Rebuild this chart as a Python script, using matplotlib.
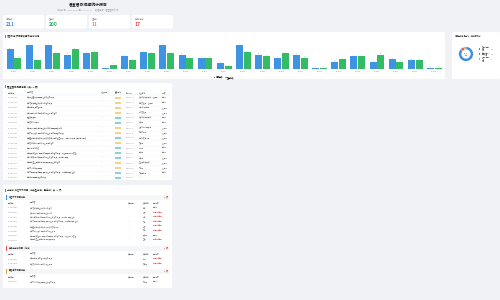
import matplotlib
matplotlib.use('Agg')
import matplotlib.pyplot as plt
from matplotlib.patches import FancyBboxPatch, Rectangle

plt.rcParams['font.family'] = ['Noto Sans CJK SC', 'DejaVu Sans']

W, H = 500, 300

# data
kpi_labels = ['问题总数', '已完成', '进行中', '逾期未完成']
kpi_values = [211, 200, 11, 17]
kpi_colors = ['#3a8ee6', '#2fb35d', '#f0a020', '#e8534a']

categories = ['DB-%03d' % i for i in range(1, 24)]
total_counts = [14, 17, 17, 10, 11, 1, 9, 12, 17, 10, 8, 4, 17, 10, 8, 10, 1, 5, 9, 5, 7, 6, 1]
done_counts = [8, 6, 11, 14, 12, 3, 6, 11, 11, 8, 8, 2, 12, 9, 11, 8, 1, 7, 9, 10, 5, 6, 1]

pie_labels = ['已完成问题\n数量', '逾期未完成\n问题数量', '进行中问题\n数量']
pie_values = [183, 17, 11]
pie_colors = ['#3a8ee6', '#e8534a', '#f0a020']

issue_ids = ['DC-2024-%03d' % i for i in [101, 102, 103, 104, 105, 106, 107, 108, 109,
                                           110, 111, 112, 113, 114, 115, 116, 117]]
issue_texts = ['关于推进重点项目建设进度的督办事项',
               '关于落实安全生产责任制的督办事项',
               '政务服务事项办理情况',
               '关于城区环境综合整治工作推进情况的督办',
               '民生实事项目',
               '关于营商环境优化',
               '关于老旧小区改造工程进度滞后的问题及整改措施',
               '关于农村人居环境整治工作推进缓慢的问题督办事项',
               '关于重点企业复工复产帮扶政策落实情况的督查反馈，相关部门协调，尽快完成整改',
               '关于信访积案化解工作推进情况的督办',
               '关于防汛工作准备',
               '关于基层治理体系建设工作开展情况的督办事项，推进基层网格化管理',
               '关于教育资源均衡配置工作推进的督办事项，加快学校建设',
               '关于医疗卫生服务能力提升项目建设进度的督办',
               '关于文化旅游项目建设',
               '关于交通基础设施建设项目推进情况的督办事项，加快道路建设进度',
               '关于产业园区建设督办事项']
issue_tags = ['重要', '重要', '重要', '重要', '一般', '一般', '重要', '重要', '一般',
              '重要', '一般', '一般', '一般', '重要', '重要', '一般', '一般']
issue_depts = ['发展和改革委员会、住建局', '应急管理局、住建局', '行政审批服务局',
               '城市管理局', '发展和改革委员会', '财政局', '住房和城乡建设局',
               '农业农村局', '工业和信息化局', '信访局', '水利局', '民政局',
               '教育局', '卫生健康委员会', '文旅局', '交通运输局', '—']
issue_status = ['已完成', '已完成', '进行中', '进行中', '已完成', '已完成', '进行中',
                '进行中', '进行中', '进行中', '已完成', '已完成', '进行中', '进行中',
                '进行中', '已完成', '—']

sec_titles = ['推进不力问题清单', '逾期未完成问题（红牌）', '预警提示问题清单']
sec_colors = ['#3a8ee6', '#e8534a', '#f0a020']
sec_counts = ['8 项', '2 项', '1 项']
sec_rows = [
    [('DC-2024-002', '关于落实安全生产责任制的督办', '—', '应急', '已完成'),
     ('DC-2024-007', '关于老旧小区改造工程进度滞后', '—', '住建', '未完成 逾期'),
     ('DC-2024-013', '关于教育资源均衡配置工作推进的督办事项，加快学校建设进度', '—', '教育', '未完成 逾期'),
     ('DC-2024-016', '关于交通基础设施建设项目推进情况的督办事项，加快道路建设进度', '—', '交通', '未完成 逾期'),
     ('DC-2024-009', '关于重点企业复工复产帮扶政策落实情况', '—', '工信', '未完成 逾期'),
     ('DC-2024-008', '关于农村人居环境整治工作推进缓慢', '—', '农业', '未完成 逾期'),
     ('DC-2024-012', '关于基层治理体系建设工作开展情况的督办事项，推进网格化管理', '—', '民政局', '已完成'),
     ('DC-2024-014', '关于医疗卫生服务能力提升项目建设', '—', '卫健', '未完成 逾期')],
    [('DC-2024-003', '政务服务事项办理情况督办事项', '—', '审批', '未完成 逾期'),
     ('DC-2024-010', '关于信访积案化解工作推进情况', '—', '信访局', '未完成 逾期')],
    [('DC-2024-015', '关于文化旅游项目建设进度督办事项', '—', '文旅局', '已完成')],
]

BG = '#f0f2f6'
fig = plt.figure(figsize=(5, 3), dpi=100)
fig.patch.set_facecolor(BG)


def rect(x, y, w, h):
    return [x / W, 1 - (y + h) / H, w / W, h / H]


def text(x, y, s, size=1.6, color='#444444', **kw):
    fig.text(x / W, 1 - y / H, s, fontsize=size, color=color, va='center', **kw)


def panel(x, y, w, h, color='white'):
    fig.patches.append(FancyBboxPatch((x / W, 1 - (y + h) / H), w / W, h / H,
                                      boxstyle='round,pad=0,rounding_size=0.004',
                                      transform=fig.transFigure, facecolor=color,
                                      edgecolor='none', zorder=-2))


def box(x, y, w, h, color):
    fig.patches.append(Rectangle((x / W, 1 - (y + h) / H), w / W, h / H,
                                 transform=fig.transFigure, facecolor=color,
                                 edgecolor='none', zorder=-1))


def hline(x0, x1, y, color='#eef0f3', lw=0.2):
    fig.lines.append(plt.Line2D([x0 / W, x1 / W], [1 - y / H] * 2,
                                transform=fig.transFigure, color=color, lw=lw, zorder=-1))


# title
text(88, 5.5, '督查督办问题统计报告', size=2.8, color='#222222', ha='center', weight='bold')
text(88, 10, '统计时间：2024-01-01 至 2024-12-31 · 数据来源：督查督办系统', size=1.5,
     color='#aaaaaa', ha='center')

# kpi cards
for i, (lab, val, col) in enumerate(zip(kpi_labels, kpi_values, kpi_colors)):
    x0 = 3 + i * 43
    panel(x0, 15, 41, 13.5)
    text(x0 + 3, 19, lab, size=1.4, color='#999999')
    text(x0 + 3, 24, str(val), size=3.6, color=col, weight='bold')

# bar chart panel
panel(3, 32, 442, 47)
box(5, 34.5, 0.6, 3, '#3a8ee6')
text(7, 36, '各督办事项问题数量及完成情况', size=1.7, color='#333333')
ax = fig.add_axes(rect(4.5, 44, 439.3, 25))
ax.patch.set_alpha(0)
xs = list(range(len(categories)))
bw = 0.37
b1 = ax.bar([x - bw / 2 - 0.02 for x in xs], total_counts, bw, color='#3f93e3', label='问题总数')
b2 = ax.bar([x + bw / 2 + 0.02 for x in xs], done_counts, bw, color='#33bb66', label='已完成数')
for bars, vals, c in [(b1, total_counts, '#3f93e3'), (b2, done_counts, '#33bb66')]:
    for b, v in zip(bars, vals):
        ax.text(b.get_x() + b.get_width() / 2, v + 0.3, str(v), ha='center', va='bottom',
                fontsize=1.3, color=c)
ax.set_xlim(-0.5, len(categories) - 0.5)
ax.set_ylim(0, 17.6)
ax.set_xticks(xs)
ax.set_xticklabels(categories, fontsize=1.3, color='#888888')
ax.tick_params(length=0, pad=1.2)
ax.set_yticks([])
for s in ax.spines.values():
    s.set_visible(False)
ax.legend(loc='upper center', bbox_to_anchor=(0.5, -0.2), ncol=2, fontsize=1.4,
          frameon=False, handlelength=0.8, handleheight=0.6, columnspacing=1.0,
          handletextpad=0.3)

# donut panel
panel(452, 32, 48, 47)
text(455, 36, '问题完成情况分布（按状态统计）', size=1.4, color='#333333')
axp = fig.add_axes(rect(456, 45, 20, 18))
axp.pie(pie_values, colors=pie_colors, startangle=90, counterclock=False,
        wedgeprops=dict(width=0.38, edgecolor='white', linewidth=0.2))
axp.set_aspect('equal')
axp.text(0, 0.1, str(sum(pie_values)), ha='center', va='center', fontsize=1.6, color='#333333')
axp.text(0, -0.25, '总数', ha='center', va='center', fontsize=1.1, color='#999999')
for i, (lab, val, col) in enumerate(zip(pie_labels, pie_values, pie_colors)):
    yy = 49 + i * 5.2
    box(478.5, yy - 0.9, 1.8, 1.8, col)
    text(481.5, yy, lab, size=1.1, color='#666666', linespacing=0.9)
    text(491, yy, str(val), size=1.2, color='#444444')

# issue table panel
panel(3, 83, 169, 97)
box(5, 85.5, 0.6, 3, '#3a8ee6')
text(7, 87, '督查督办问题清单（共 17 项）', size=1.7, color='#333333', weight='bold')
heads = ['问题编号', '问题内容', '责任领导', '重要程度', '办结时限', '责任单位', '状态']
hx = [8, 27, 101, 115, 126, 139, 162]
for x, h in zip(hx, heads):
    text(x, 93, h, size=1.25, color='#777777')
hline(6, 170, 95, '#e6e8ec', 0.3)
for r in range(len(issue_ids)):
    yy = 98 + r * 5
    text(8, yy, issue_ids[r], size=1.2, color='#888888')
    text(27, yy, issue_texts[r], size=1.2, color='#777777')
    text(101, yy, '—', size=1.2, color='#aaaaaa')
    tc = '#f3d58a' if issue_tags[r] == '重要' else '#8ccfd6'
    box(115, yy - 1, 5.5, 2, tc)
    text(126, yy, '2024-12-%02d' % (r + 10), size=1.2, color='#888888')
    text(139, yy, issue_depts[r], size=1.2, color='#888888')
    text(162, yy, issue_status[r], size=1.2, color='#888888')
    hline(6, 170, yy + 2.5)

# unfinished panel
panel(3, 185, 169, 103)
box(5, 188.5, 0.6, 3, '#3a8ee6')
text(7, 190, '未完成/推进不力问题（按类型分组，已逾期，共 11 项）', size=1.6, color='#333333')
sec_y = [197, 248, 271]
sub_heads = ['问题编号', '问题内容', '责任领导', '责任单位', '完成状态']
sx = [8, 30, 128, 143, 153]
for si in range(3):
    y0 = sec_y[si]
    box(6, y0 - 2.5, 164, 5, '#f5f6f8')
    box(6, y0 - 2.5, 0.7, 5, sec_colors[si])
    text(9, y0, sec_titles[si], size=1.5, color='#333333')
    text(168, y0, sec_counts[si], size=1.6, color='#e8534a', ha='right', weight='bold')
    for x, h in zip(sx, sub_heads):
        text(x, y0 + 6, h, size=1.2, color='#777777')
    for r, row in enumerate(sec_rows[si]):
        yy = y0 + 11 + r * 4.6
        for x, v in zip(sx, row):
            if v == '已完成':
                text(x, yy, v, size=1.2, color='#2fb35d')
            elif v.startswith('未完成'):
                text(x, yy, v, size=1.2, color='#e8534a')
            else:
                text(x, yy, v, size=1.2, color='#888888' if x != 128 else '#aaaaaa')

fig.savefig('out.png', dpi=100, facecolor=BG)
